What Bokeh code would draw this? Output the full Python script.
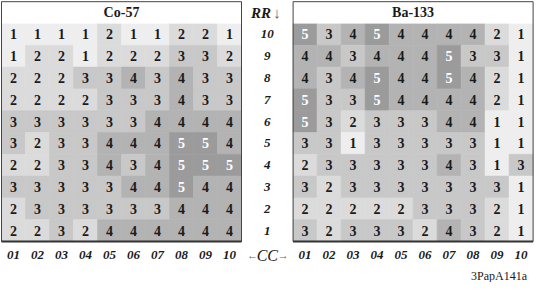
from bokeh.plotting import figure
from bokeh.models import Range1d, ColumnDataSource
from bokeh.core.properties import value
from bokeh.embed import file_html
from bokeh.resources import INLINE

# ---------------- data ----------------
rr_labels = ["10", "9", "8", "7", "6", "5", "4", "3", "2", "1"]   # rows, top to bottom
cc_labels = ["01", "02", "03", "04", "05", "06", "07", "08", "09", "10"]
panel_titles = ["Co-57", "Ba-133"]

co57 = [
    [1, 1, 1, 1, 2, 1, 1, 2, 2, 1],
    [1, 2, 2, 1, 2, 2, 2, 3, 3, 2],
    [2, 2, 2, 3, 3, 4, 3, 4, 3, 3],
    [2, 2, 2, 2, 3, 3, 3, 4, 3, 3],
    [3, 3, 3, 3, 3, 3, 4, 4, 4, 4],
    [3, 2, 3, 3, 4, 4, 4, 5, 5, 4],
    [2, 2, 3, 3, 4, 3, 4, 5, 5, 5],
    [3, 3, 3, 3, 3, 4, 4, 5, 4, 4],
    [2, 3, 3, 3, 3, 3, 3, 4, 4, 4],
    [2, 2, 3, 2, 4, 4, 4, 4, 4, 4],
]
ba133 = [
    [5, 3, 4, 5, 4, 4, 4, 4, 2, 1],
    [4, 4, 3, 4, 4, 4, 5, 3, 3, 1],
    [4, 3, 4, 5, 4, 4, 5, 4, 2, 1],
    [5, 3, 3, 5, 4, 4, 4, 4, 2, 1],
    [5, 3, 2, 3, 3, 3, 4, 4, 1, 1],
    [3, 3, 1, 3, 3, 3, 3, 3, 1, 1],
    [2, 3, 3, 3, 3, 3, 4, 3, 1, 3],
    [3, 2, 3, 3, 3, 3, 3, 3, 3, 1],
    [2, 2, 2, 2, 2, 3, 3, 3, 2, 1],
    [3, 2, 3, 3, 3, 2, 4, 3, 2, 1],
]
code_label = "3PapA141a"

# ---------------- styling ----------------
fill_by_level = {1: "#eeeeee", 2: "#dbdbdb", 3: "#c8c8c8", 4: "#b3b3b3", 5: "#9b9b9b"}
text_by_level = {1: "#1a1a1a", 2: "#1a1a1a", 3: "#1a1a1a", 4: "#1a1a1a", 5: "#ffffff"}
SERIF = value("Liberation Serif")
GAP = 2.15          # gap between panels, in cell units
OFFSETS = [0.0, 10 + GAP]

p = figure(width=534, height=282, output_backend="svg", toolbar_location=None,
           x_range=Range1d(0.458, 0.458 + 534 / 24.0),
           y_range=Range1d(-1.381, 11.555),
           min_border=0, outline_line_color=None, background_fill_color="white")
p.axis.visible = False
p.grid.visible = False

nrows = len(rr_labels)
ncols = len(cc_labels)

for off, grid, title in zip(OFFSETS, [co57, ba133], panel_titles):
    xs, ys, vals, fills, tcols = [], [], [], [], []
    for i, row in enumerate(grid):
        for j, v in enumerate(row):
            xs.append(j + 1 + off)
            ys.append(nrows - i)
            vals.append(str(v))
            fills.append(fill_by_level[v])
            tcols.append(text_by_level[v])
    src = ColumnDataSource(dict(x=xs, y=ys, v=vals, f=fills, t=tcols))
    p.rect("x", "y", width=1, height=1, source=src, fill_color="f",
           line_color="f", line_width=0.6)
    p.text("x", "y", text="v", source=src, text_color="t", text_font=SERIF,
           text_font_style="bold", text_font_size="14px",
           text_align="center", text_baseline="middle")
    # title row
    left, right = 0.5 + off, ncols + 0.5 + off
    p.quad(left=[left], right=[right], bottom=[nrows + 0.5], top=[nrows + 1.5],
           fill_color="white", line_color=None)
    p.text([(left + right) / 2], [nrows + 1.0], text=[title], text_font=SERIF,
           text_font_style="bold", text_font_size="14px", text_color="#1a1a1a",
           text_align="center", text_baseline="middle")
    # frame
    p.quad(left=[left], right=[right], bottom=[0.5], top=[nrows + 1.5],
           fill_color=None, line_color="#444444", line_width=1)
    p.segment(x0=[left], x1=[right], y0=[0.5], y1=[0.5],
              line_color="#333333", line_width=2.2)
    # column labels
    p.text([j + 1 + off for j in range(ncols)], [-0.14] * ncols, text=cc_labels,
           text_font=SERIF, text_font_style="bold italic", text_font_size="13px",
           text_color="#1a1a1a", text_align="center", text_baseline="middle")

# middle labels
mid = 10.5 + GAP / 2
p.text([mid] * nrows, [nrows - i for i in range(nrows)], text=rr_labels,
       text_font=SERIF, text_font_style="bold italic", text_font_size="13px",
       text_color="#1a1a1a", text_align="center", text_baseline="middle")
p.text([mid + 0.15], [nrows + 1.0], text=["RR"], text_font=SERIF,
       text_font_style="bold italic", text_font_size="15px", text_color="#1a1a1a",
       text_align="right", text_baseline="middle")
p.text([mid + 0.25], [nrows + 1.0], text=["\u2193"], text_font=SERIF,
       text_font_style="normal", text_font_size="15px", text_color="#556677",
       text_align="left", text_baseline="middle")
p.text([mid], [-0.14], text=["CC"], text_font=SERIF,
       text_font_style="italic", text_font_size="16px", text_color="#1a1a1a",
       text_align="center", text_baseline="middle")
p.text([mid - 0.62], [-0.14], text=["\u2190"], text_font=SERIF,
       text_font_size="11px", text_color="#556677",
       text_align="center", text_baseline="middle")
p.text([mid + 0.66], [-0.14], text=["\u2192"], text_font=SERIF,
       text_font_size="11px", text_color="#556677",
       text_align="center", text_baseline="middle")

p.text([22.4], [-1.1], text=[code_label], text_font=SERIF, text_font_size="12px",
       text_color="#1a1a1a", text_align="right", text_baseline="middle")

open("out.html", "w").write(file_html(p, INLINE))
